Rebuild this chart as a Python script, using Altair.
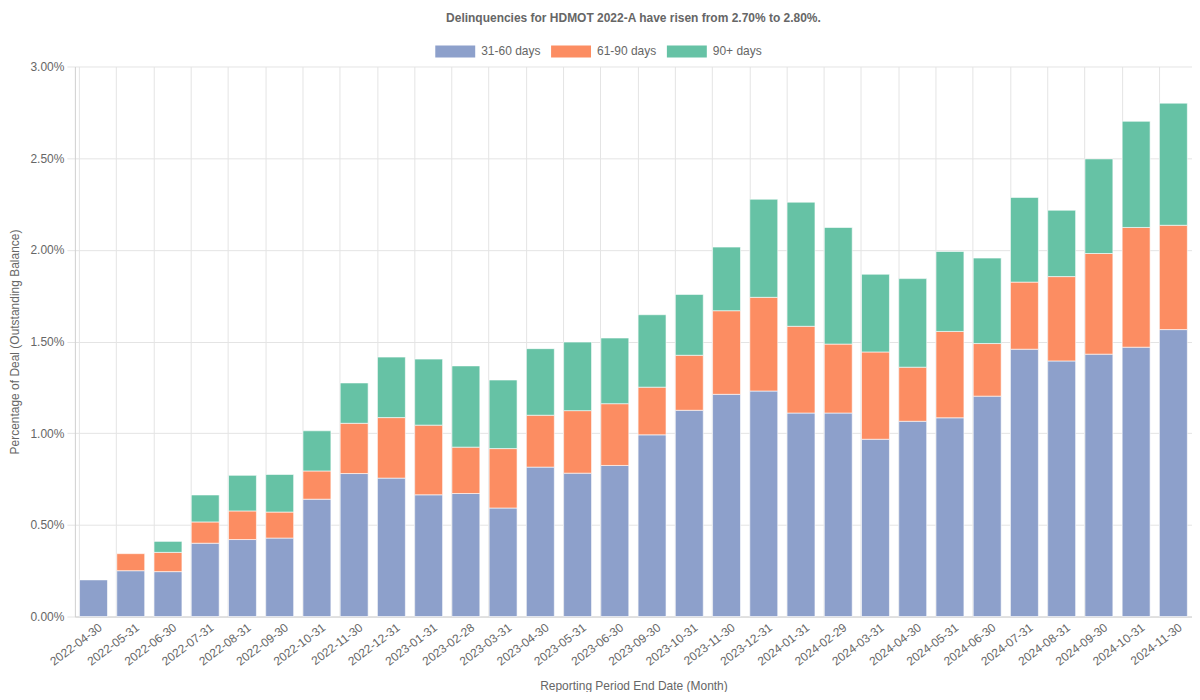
import altair as alt
import pandas as pd

dates = ["2022-04-30", "2022-05-31", "2022-06-30", "2022-07-31", "2022-08-31", "2022-09-30",
         "2022-10-31", "2022-11-30", "2022-12-31", "2023-01-31", "2023-02-28", "2023-03-31",
         "2023-04-30", "2023-05-31", "2023-06-30", "2023-09-30", "2023-10-31", "2023-11-30",
         "2023-12-31", "2024-01-31", "2024-02-29", "2024-03-31", "2024-04-30", "2024-05-31",
         "2024-06-30", "2024-07-31", "2024-08-31", "2024-09-30", "2024-10-31", "2024-11-30"]

d31_60 = [0.200, 0.250, 0.245, 0.400, 0.420, 0.428, 0.640, 0.780, 0.755, 0.664,
          0.671, 0.592, 0.815, 0.782, 0.824, 0.991, 1.125, 1.212, 1.230, 1.110,
          1.110, 0.967, 1.065, 1.084, 1.202, 1.458, 1.394, 1.431, 1.469, 1.565]
d61_90 = [0.000, 0.093, 0.105, 0.116, 0.156, 0.142, 0.154, 0.274, 0.330, 0.380,
          0.253, 0.324, 0.283, 0.341, 0.337, 0.260, 0.300, 0.456, 0.511, 0.473,
          0.376, 0.476, 0.295, 0.471, 0.287, 0.366, 0.460, 0.549, 0.653, 0.569]
d90p = [0.000, 0.000, 0.060, 0.147, 0.194, 0.205, 0.219, 0.220, 0.330, 0.360,
        0.443, 0.374, 0.363, 0.374, 0.358, 0.395, 0.332, 0.347, 0.535, 0.677,
        0.636, 0.424, 0.483, 0.436, 0.466, 0.462, 0.362, 0.516, 0.579, 0.666]

series = ["31-60 days", "61-90 days", "90+ days"]
colors = ["#8DA0CB", "#FC8D62", "#66C2A5"]
y_ticks = [0, 0.5, 1.0, 1.5, 2.0, 2.5, 3.0]

rows = []
for i, d in enumerate(dates):
    for k, (s, vals) in enumerate(zip(series, [d31_60, d61_90, d90p])):
        if vals[i] > 0:
            rows.append({"date": d, "series": s, "order": k, "value": vals[i]})
df = pd.DataFrame(rows)

FONT = "Liberation Sans"
GRID = "#e4e4e4"
TXT = "#666666"

xscale = alt.Scale(domain=dates, paddingInner=0.25, paddingOuter=0.125)

grid_layer = alt.Chart(df).mark_tick(opacity=0).encode(
    x=alt.X("date:N", scale=xscale, sort=dates,
            axis=alt.Axis(orient="top", grid=True, bandPosition=0, labels=False,
                          ticks=False, domain=False, title=None, gridColor=GRID))
)

bars = alt.Chart(df).mark_bar(stroke="white", strokeWidth=1, strokeOpacity=0.6).encode(
    x=alt.X("date:N", scale=xscale, sort=dates,
            axis=alt.Axis(title="Reporting Period End Date (Month)", labelAngle=-37,
                          labelAlign="right", labelBaseline="top", labelPadding=5,
                          labelOffset=4, grid=False, ticks=False, domainColor="#cfcfcf",
                          labelColor=TXT, labelFontSize=12, titleColor=TXT,
                          titleFontSize=12, titleFontWeight="normal", titlePadding=13)),
    y=alt.Y("value:Q", stack="zero", scale=alt.Scale(domain=[0, 3], nice=False),
            axis=alt.Axis(values=y_ticks, labelExpr="format(datum.value, '.2f') + '%'",
                          title="Percentage of Deal (Outstanding Balance)",
                          grid=True, gridColor=GRID, tickColor=GRID, tickSize=8,
                          labelPadding=3, domainColor="#cfcfcf", labelColor=TXT,
                          labelFontSize=12, titleColor=TXT, titleFontSize=12,
                          titleFontWeight="normal", titlePadding=8)),
    color=alt.Color("series:N", scale=alt.Scale(domain=series, range=colors),
                    legend=alt.Legend(orient="none", direction="horizontal", title=None,
                                      legendX=361, legendY=-35,
                                      symbolType="M-1,-0.3H1V0.3H-1Z", symbolSize=1600,
                                      symbolStrokeWidth=0, symbolOpacity=1,
                                      labelFontSize=12, labelColor=TXT, labelOffset=6,
                                      columnPadding=10)),
    order=alt.Order("order:Q"),
)

chart = alt.layer(grid_layer, bars).resolve_scale(x="shared").resolve_axis(x="independent").properties(
    width=1119, height=551,
    padding={"left": 0, "right": 0, "top": 3, "bottom": 0},
    title=alt.TitleParams("Delinquencies for HDMOT 2022-A have risen from 2.70% to 2.80%.",
                          fontSize=12, fontWeight="bold", color=TXT, anchor="middle",
                          offset=7, font=FONT),
).configure(font=FONT).configure_view(stroke=None)

chart.save("out.html", embed_options={"renderer": "svg", "actions": False})
